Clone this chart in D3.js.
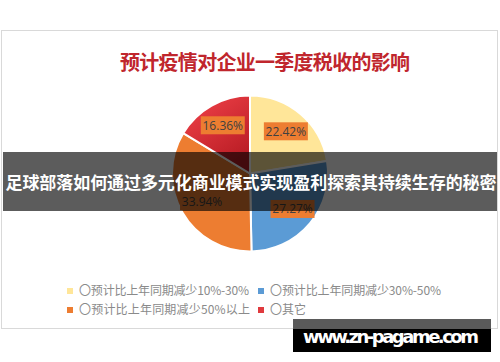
<!DOCTYPE html>
<html>
<head>
<meta charset="utf-8">
<script src="https://cdn.jsdelivr.net/npm/d3@7"></script>
<style>
  body { margin: 0; background: #fff; }
  svg { display: block; }
</style>
</head>
<body>
<div class="chart"></div>
<script>
var w = 500,
    h = 362;

var title = "预计疫情对企业一季度税收的影响";
var categories = ["〇预计比上年同期减少10%-30%", "〇预计比上年同期减少30%-50%", "〇预计比上年同期减少50%以上", "〇其它"];
var values = [22.42, 27.27, 33.94, 16.36];
var labels = ["22.42%", "27.27%", "33.94%", "16.36%"];
var color = ["#FFE699", "#5B9BD5", "#ED7D31", "url(#redGrad)"];
var legendColor = ["#FFE699", "#5B9BD5", "#ED7D31", "#E03A3E"];
var banner = "足球部落如何通过多元化商业模式实现盈利探索其持续生存的秘密";
var site = "www.zn-pagame.com";

var svg = d3.select(".chart").append("svg")
  .attr("width", w)
  .attr("height", h);

var defs = svg.append("defs");
var grad = defs.append("linearGradient")
  .attr("id", "redGrad")
  .attr("x1", 0).attr("y1", 0).attr("x2", 0.6).attr("y2", 1);
grad.append("stop").attr("offset", "0%").attr("stop-color", "#F4444B");
grad.append("stop").attr("offset", "100%").attr("stop-color", "#B81C24");

// chart frame
svg.append("rect")
  .attr("x", 1.5).attr("y", 30.5)
  .attr("width", 496).attr("height", 298)
  .attr("fill", "#fff")
  .attr("stroke", "#d9d9d9");

svg.append("text")
  .attr("x", 265).attr("y", 70)
  .attr("text-anchor", "middle")
  .style("font-family", "'Noto Sans CJK SC'")
  .style("font-weight", "bold")
  .style("font-size", "20px")
  .attr("fill", "#C0262D")
  .attr("textLength", 290)
  .text(title);

var cx = 250, cy = 173.5, r = 78;

var pie = d3.pie().sort(null).value(function(d) { return d; });
var arc = d3.arc().innerRadius(0).outerRadius(r);
var labelArc = d3.arc().innerRadius(r * 0.71).outerRadius(r * 0.71);

var g = svg.append("g").attr("transform", "translate(" + cx + "," + cy + ")");
var arcs = pie(values);

g.selectAll("path")
  .data(arcs)
  .enter()
  .append("path")
  .attr("d", arc)
  .attr("fill", function(d, i) { return color[i]; })
  .attr("stroke", "#fff")
  .attr("stroke-width", 2);

var lab = g.selectAll(".lab")
  .data(arcs)
  .enter()
  .append("g")
  .attr("class", "lab")
  .attr("transform", function(d) {
    var c = labelArc.centroid(d);
    return "translate(" + c[0] + "," + c[1] + ")";
  });

lab.append("rect")
  .attr("x", -22).attr("y", -9)
  .attr("width", 44).attr("height", 18)
  .attr("fill", "#ED7D31");

lab.append("text")
  .attr("text-anchor", "middle")
  .attr("dy", "0.36em")
  .style("font-family", "'Open Sans', 'DejaVu Sans'")
  .style("font-size", "12px")
  .attr("fill", "#404040")
  .text(function(d, i) { return labels[i]; });

// legend
var legend = svg.append("g");
var item = legend.selectAll("g")
  .data(categories)
  .enter()
  .append("g")
  .attr("transform", function(d, i) {
    return "translate(" + (i % 2 ? 258 : 67) + "," + (i < 2 ? 291 : 310) + ")";
  });

item.append("rect")
  .attr("x", 0).attr("y", -3)
  .attr("width", 6).attr("height", 6)
  .attr("fill", function(d, i) { return legendColor[i]; });

item.append("text")
  .attr("x", 12)
  .attr("dy", "0.36em")
  .style("font-family", "'Noto Sans CJK SC'")
  .style("font-size", "12px")
  .attr("fill", "#8a8a8a")
  .attr("textLength", function(d, i) { return [170, 171, 171, 36][i]; })
  .text(function(d) { return d; });

// overlay banner
svg.append("rect")
  .attr("x", 3).attr("y", 152)
  .attr("width", 494).attr("height", 59)
  .attr("fill", "rgba(0,0,0,0.64)");

svg.append("text")
  .attr("x", 251).attr("y", 183)
  .attr("text-anchor", "middle")
  .attr("dy", "0.36em")
  .style("font-family", "'Noto Sans CJK SC'")
  .style("font-weight", "bold")
  .style("font-size", "17px")
  .attr("fill", "#fff")
  .attr("textLength", 491)
  .text(banner);

// site mark
svg.append("rect")
  .attr("x", 293).attr("y", 319)
  .attr("width", 198).attr("height", 33)
  .attr("fill", "#000");
svg.append("rect")
  .attr("x", 293).attr("y", 319)
  .attr("width", 198).attr("height", 10)
  .attr("fill", "#5a5a5a");

svg.append("text")
  .attr("x", 303).attr("y", 343)
  .style("font-family", "'DejaVu Sans'")
  .style("font-weight", "bold")
  .style("font-size", "18px")
  .attr("fill", "#fff")
  .attr("textLength", 176)
  .text(site);
</script>
</body>
</html>
